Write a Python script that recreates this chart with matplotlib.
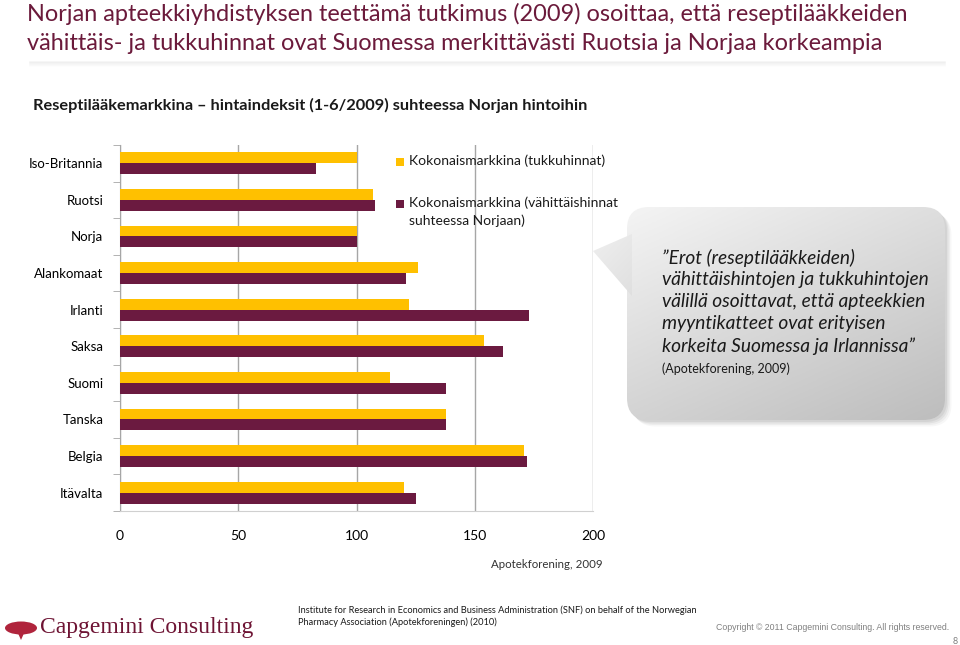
import numpy as np
import matplotlib
matplotlib.use('Agg')
import matplotlib.pyplot as plt
from matplotlib.patches import FancyBboxPatch, Polygon, Ellipse, Rectangle

plt.rcParams['font.family'] = ['Lato', 'DejaVu Sans']

countries = ['Iso-Britannia', 'Ruotsi', 'Norja', 'Alankomaat', 'Irlanti',
             'Saksa', 'Suomi', 'Tanska', 'Belgia', 'Itävalta']
tukku = [100, 107, 100, 126, 122, 154, 114, 138, 171, 120]
vahittais = [83, 108, 100, 121, 173, 162, 138, 138, 172, 125]
xticks = [0, 50, 100, 150, 200]
labels = ['Kokonaismarkkina (tukkuhinnat)',
          'Kokonaismarkkina (vähittäishinnat\nsuhteessa Norjaan)']

yellow = '#FFC000'
maroon = '#6B1A40'
title_col = '#6B1A3B'

W, H = 960, 645
fig = plt.figure(figsize=(9.6, 6.45), dpi=100)

# overlay in pixel coordinates for decorations
ov = fig.add_axes([0, 0, 1, 1], zorder=0)
ov.set_xlim(0, W)
ov.set_ylim(H, 0)
ov.axis('off')

fig.text(27 / W, 1 - 14 / H, 'Norjan apteekkiyhdistyksen teettämä tutkimus (2009) osoittaa, että reseptilääkkeiden',
         fontsize=16.9, color=title_col, va='center', ha='left')
fig.text(27 / W, 1 - 43 / H, 'vähittäis- ja tukkuhinnat ovat Suomessa merkittävästi Ruotsia ja Norjaa korkeampia',
         fontsize=16.9, color=title_col, va='center', ha='left')

# shadow under title
for k, a in enumerate([0.08, 0.06, 0.045, 0.03, 0.02]):
    ov.plot([30, 945], [62 + k, 62 + k], color='gray', alpha=a, lw=1.2)

fig.text(33 / W, 1 - 105 / H, 'Reseptilääkemarkkina – hintaindeksit (1-6/2009) suhteessa Norjan hintoihin',
         fontsize=11.8, fontweight='bold', color='#1a1a1a', va='center', ha='left')

# main chart
ax = fig.add_axes([120 / W, 1 - 511 / H, (593 - 120) / W, (511 - 145) / H], zorder=2)
ax.patch.set_alpha(0)
y = np.arange(len(countries))
b1 = ax.barh(y - 0.15, tukku, height=0.3, color=yellow, zorder=3)
b2 = ax.barh(y + 0.15, vahittais, height=0.3, color=maroon, zorder=3)
ax.set_ylim(len(countries) - 0.5, -0.5)
ax.set_xlim(0, 200)
ax.set_xticks(xticks)
ax.set_yticks(y)
ax.set_yticklabels(countries, fontsize=9.5)
ax.set_yticks(np.arange(len(countries) + 1) - 0.5, minor=True)
ax.tick_params(axis='y', which='major', length=0, pad=12)
ax.tick_params(axis='y', which='minor', length=5, color='#A6A6A6', direction='out')
ax.tick_params(axis='x', length=0, pad=14, labelsize=10)
ax.grid(axis='x', color='#A6A6A6', lw=1.0, zorder=0)
for s in ['top', 'right']:
    ax.spines[s].set_visible(False)
ax.spines['left'].set_color('#A6A6A6')
ax.spines['bottom'].set_color('#D0D0D0')

# legend (drawn on top of gridlines)
for (ly, col, lab) in [(161, yellow, labels[0]), (203, maroon, labels[1])]:
    fig.patches.append(Rectangle((396 / W, 1 - (ly + 4.5) / H), 8 / W, 8 / H, fc=col, ec='none',
                                 transform=fig.transFigure, figure=fig, zorder=5))
    fig.text(409 / W, 1 - (ly - 7) / H, lab, fontsize=10, va='top', ha='left', color='#1a1a1a',
             linespacing=1.55, zorder=5)

fig.text(603 / W, 1 - 565 / H, 'Apotekforening, 2009', fontsize=8.3, ha='right', va='center', color='#333333')

# callout bubble
bx0, by0, bx1, by1 = 627, 207, 945, 420
tri = [(632, 234), (593, 251), (632, 296)]
for k, a in enumerate([0.06, 0.05, 0.04, 0.03]):
    d = 2 + k * 1.5
    sh = FancyBboxPatch((bx0 + d, by0 + d), bx1 - bx0, by1 - by0,
                        boxstyle='round,pad=0,rounding_size=22', fc='black', ec='none', alpha=a, zorder=1)
    ov.add_patch(sh)
grad = np.linspace(0, 1, 200)[:, None] * 0.6 + np.linspace(0, 1, 200)[None, :] * 0.4
box = FancyBboxPatch((bx0, by0), bx1 - bx0, by1 - by0,
                     boxstyle='round,pad=0,rounding_size=22', fc='none', ec='none', zorder=2)
ov.add_patch(box)
im = ov.imshow(grad, cmap=matplotlib.colors.LinearSegmentedColormap.from_list('g', ['#F4F4F4', '#BDBDBD']),
               extent=(bx0, bx1, by1, by0), zorder=2, aspect='auto')
im.set_clip_path(box)
trip = Polygon(tri, closed=True, fc='none', ec='none', zorder=2)
ov.add_patch(trip)
im2 = ov.imshow(grad, cmap=matplotlib.colors.LinearSegmentedColormap.from_list('g2', ['#F0F0F0', '#DCDCDC']),
                extent=(590, 640, 310, 230), zorder=2, aspect='auto')
im2.set_clip_path(trip)
ov.set_xlim(0, W)
ov.set_ylim(H, 0)

quote = ['”Erot (reseptilääkkeiden)', 'vähittäishintojen ja tukkuhintojen',
         'välillä osoittavat, että apteekkien', 'myyntikatteet ovat erityisen',
         'korkeita Suomessa ja Irlannissa”']
for i, line in enumerate(quote):
    ov.text(662, 258 + i * 22, line, fontsize=13.8, style='italic', color='#1a1a1a',
            va='center', ha='left', zorder=3)
ov.text(662, 369, '(Apotekforening, 2009)', fontsize=9, color='#1a1a1a', va='center', ha='left', zorder=3)

# footer
ov.add_patch(Ellipse((21, 628), 32, 13, fc='#B0243C', ec='none', zorder=2))
ov.add_patch(Polygon([(17, 631), (25, 631), (21, 640)], fc='#B0243C', ec='none', zorder=2))
ov.text(40, 628, 'Capgemini Consulting', fontsize=17, family='Liberation Serif', color='#6E1434',
        va='center', ha='left', zorder=3)
fig.text(298 / W, 1 - 610 / H, 'Institute for Research in Economics and Business Administration (SNF) on behalf of the Norwegian',
         fontsize=6.7, va='center', ha='left', color='#1a1a1a')
fig.text(298 / W, 1 - 622 / H, 'Pharmacy Association (Apotekforeningen) (2010)',
         fontsize=6.7, va='center', ha='left', color='#1a1a1a')
fig.text(716 / W, 1 - 627 / H, 'Copyright © 2011 Capgemini Consulting. All rights reserved.',
         fontsize=6.3, va='center', ha='left', color='#808080', family='Liberation Sans')
fig.text(955 / W, 1 - 641 / H, '8', fontsize=6.5, va='center', ha='center', color='#808080')

fig.savefig('out.png', dpi=100)
